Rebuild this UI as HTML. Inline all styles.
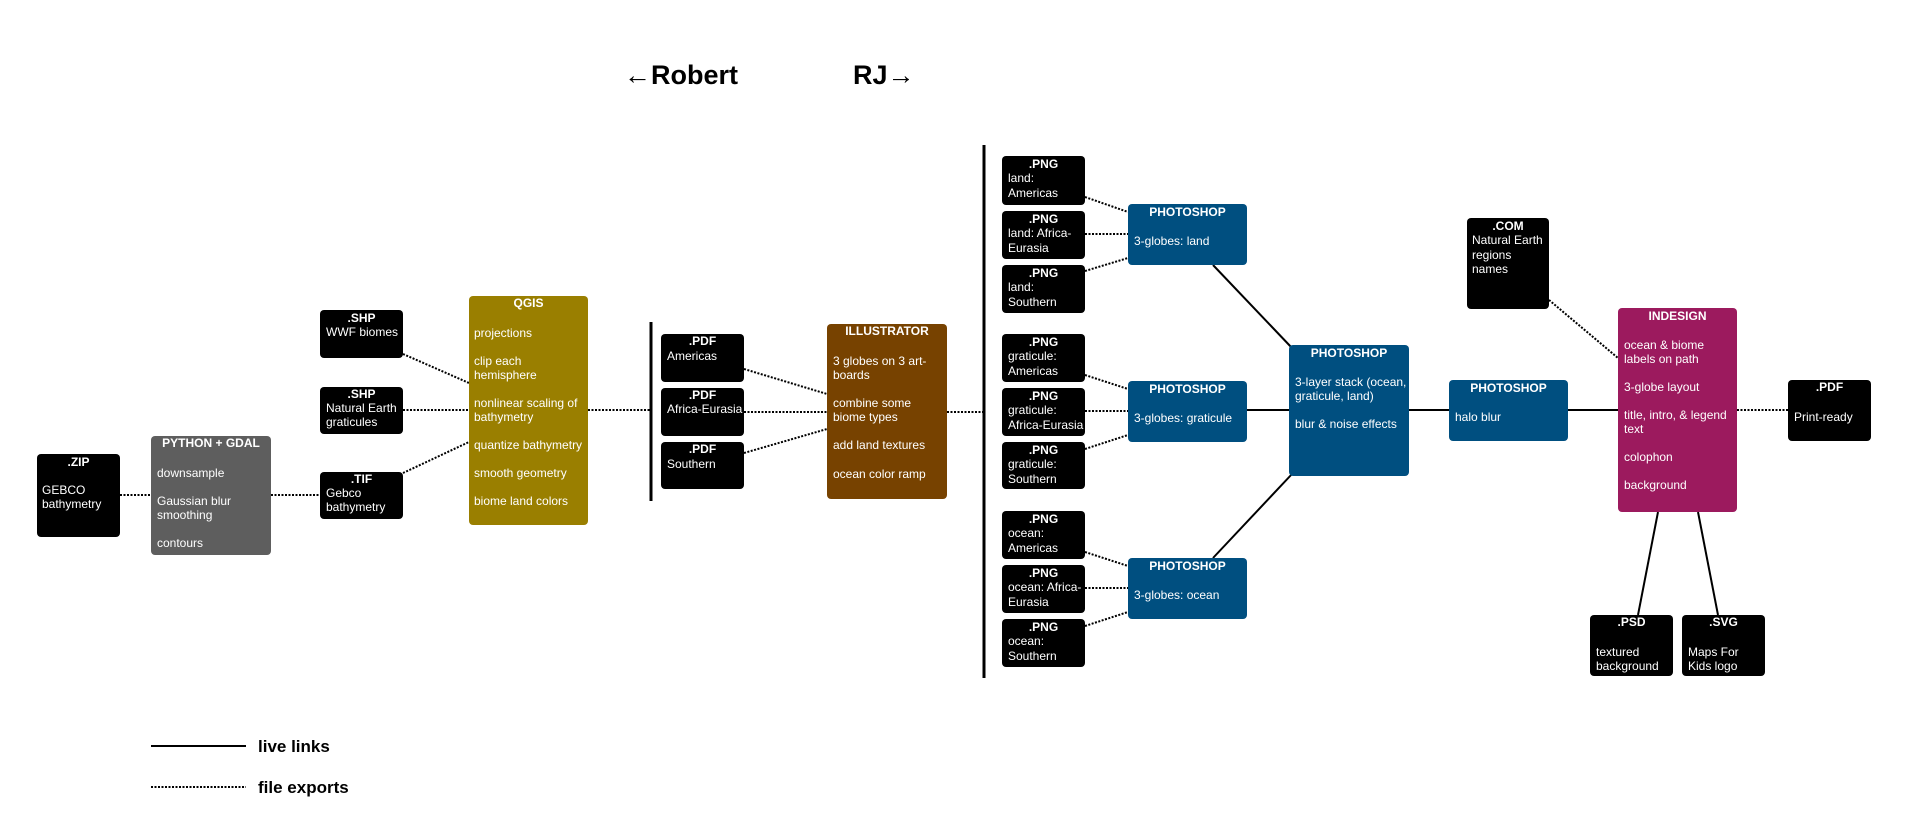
<!DOCTYPE html>
<html><head><meta charset="utf-8"><style>
html,body{margin:0;padding:0;background:#fff;}
svg{display:block;font-family:"Liberation Sans",Arial,sans-serif;}
.t{fill:#fff;font-size:12px;}
.h{fill:#fff;font-size:12px;font-weight:bold;text-anchor:middle;}
.d{stroke:#000;stroke-width:2;stroke-dasharray:2 1.5;fill:none;}
.s{stroke:#000;stroke-width:2;fill:none;}
</style></head><body>
<svg width="1920" height="837" viewBox="0 0 1920 837" xmlns="http://www.w3.org/2000/svg">
<!-- header -->
<text x="624" y="84" font-size="27" font-weight="bold">←Robert</text>
<text x="853" y="84" font-size="27" font-weight="bold">RJ→</text>

<!-- connectors -->
<line class="d" x1="120" y1="495" x2="151" y2="495"/>
<line class="d" x1="271" y1="495" x2="320" y2="495"/>
<line class="d" x1="403" y1="354" x2="469" y2="383"/>
<line class="d" x1="403" y1="410" x2="469" y2="410"/>
<line class="d" x1="403" y1="473" x2="469" y2="442"/>
<line class="d" x1="588" y1="410" x2="651" y2="410"/>
<line x1="651" y1="322" x2="651" y2="501" stroke="#000" stroke-width="3"/>
<line class="d" x1="744" y1="369" x2="827" y2="394"/>
<line class="d" x1="744" y1="412" x2="827" y2="412"/>
<line class="d" x1="744" y1="453" x2="827" y2="429"/>
<line class="d" x1="947" y1="412" x2="984" y2="412"/>
<line x1="984" y1="145" x2="984" y2="678" stroke="#000" stroke-width="3"/>

<line class="d" x1="1085" y1="197" x2="1128" y2="212"/>
<line class="d" x1="1085" y1="234" x2="1128" y2="234"/>
<line class="d" x1="1085" y1="271" x2="1128" y2="258"/>
<line class="d" x1="1085" y1="375" x2="1128" y2="389"/>
<line class="d" x1="1085" y1="411" x2="1128" y2="411"/>
<line class="d" x1="1085" y1="449" x2="1128" y2="435"/>
<line class="d" x1="1085" y1="552" x2="1128" y2="566"/>
<line class="d" x1="1085" y1="588" x2="1128" y2="588"/>
<line class="d" x1="1085" y1="626" x2="1128" y2="612"/>

<line class="s" x1="1213" y1="265" x2="1292" y2="348"/>
<line class="s" x1="1213" y1="558" x2="1292" y2="474"/>
<line class="s" x1="1247" y1="410" x2="1289" y2="410"/>
<line class="s" x1="1409" y1="410" x2="1449" y2="410"/>
<line class="s" x1="1568" y1="410" x2="1618" y2="410"/>
<line class="d" x1="1549" y1="300" x2="1618" y2="358"/>
<line class="d" x1="1737" y1="410" x2="1788" y2="410"/>
<line class="s" x1="1658" y1="512" x2="1638" y2="615"/>
<line class="s" x1="1698" y1="512" x2="1718" y2="615"/>

<!-- ZIP -->
<rect x="37" y="454" width="83" height="83" rx="4" fill="#000"/>
<text class="h" x="78.5" y="466">.ZIP</text>
<text class="t" x="42" y="494">GEBCO</text><text class="t" x="42" y="508">bathymetry</text>

<!-- PYTHON -->
<rect x="151" y="436" width="120" height="119" rx="4" fill="#5e5e5e"/>
<text class="h" x="211" y="447">PYTHON + GDAL</text>
<text class="t" x="157" y="477">downsample</text>
<text class="t" x="157" y="505">Gaussian blur</text>
<text class="t" x="157" y="519">smoothing</text>
<text class="t" x="157" y="547">contours</text>

<!-- SHP/TIF -->
<rect x="320" y="310" width="83" height="48" rx="4" fill="#000"/>
<text class="h" x="361.5" y="322">.SHP</text><text class="t" x="326" y="336">WWF biomes</text>
<rect x="320" y="387" width="83" height="47" rx="4" fill="#000"/>
<text class="h" x="361.5" y="398">.SHP</text><text class="t" x="326" y="412">Natural Earth</text><text class="t" x="326" y="426">graticules</text>
<rect x="320" y="472" width="83" height="47" rx="4" fill="#000"/>
<text class="h" x="361.5" y="483">.TIF</text><text class="t" x="326" y="497">Gebco</text><text class="t" x="326" y="511">bathymetry</text>

<!-- QGIS -->
<rect x="469" y="296" width="119" height="229" rx="4" fill="#9a7f00"/>
<text class="h" x="528.5" y="307">QGIS</text>
<text class="t" x="474" y="337">projections</text>
<text class="t" x="474" y="365">clip each</text><text class="t" x="474" y="379">hemisphere</text>
<text class="t" x="474" y="407">nonlinear scaling of</text><text class="t" x="474" y="421">bathymetry</text>
<text class="t" x="474" y="449">quantize bathymetry</text>
<text class="t" x="474" y="477">smooth geometry</text>
<text class="t" x="474" y="505">biome land colors</text>

<!-- PDFs -->
<rect x="661" y="334" width="83" height="48" rx="4" fill="#000"/>
<text class="h" x="702.5" y="345">.PDF</text><text class="t" x="667" y="360">Americas</text>
<rect x="661" y="388" width="83" height="48" rx="4" fill="#000"/>
<text class="h" x="702.5" y="399">.PDF</text><text class="t" x="667" y="413">Africa-Eurasia</text>
<rect x="661" y="442" width="83" height="47" rx="4" fill="#000"/>
<text class="h" x="702.5" y="453">.PDF</text><text class="t" x="667" y="468">Southern</text>

<!-- ILLUSTRATOR -->
<rect x="827" y="324" width="120" height="175" rx="4" fill="#774200"/>
<text class="h" x="887" y="335">ILLUSTRATOR</text>
<text class="t" x="833" y="365">3 globes on 3 art-</text><text class="t" x="833" y="379">boards</text>
<text class="t" x="833" y="407">combine some</text><text class="t" x="833" y="421">biome types</text>
<text class="t" x="833" y="449">add land textures</text>
<text class="t" x="833" y="478">ocean color ramp</text>

<!-- PNGs -->
<g>
<rect x="1002" y="156" width="83" height="49" rx="4" fill="#000"/><text class="h" x="1043.5" y="168">.PNG</text><text class="t" x="1008" y="182">land:</text><text class="t" x="1008" y="197">Americas</text>
<rect x="1002" y="211" width="83" height="48" rx="4" fill="#000"/><text class="h" x="1043.5" y="223">.PNG</text><text class="t" x="1008" y="237">land: Africa-</text><text class="t" x="1008" y="252">Eurasia</text>
<rect x="1002" y="265" width="83" height="48" rx="4" fill="#000"/><text class="h" x="1043.5" y="277">.PNG</text><text class="t" x="1008" y="291">land:</text><text class="t" x="1008" y="306">Southern</text>
<rect x="1002" y="334" width="83" height="48" rx="4" fill="#000"/><text class="h" x="1043.5" y="346">.PNG</text><text class="t" x="1008" y="360">graticule:</text><text class="t" x="1008" y="375">Americas</text>
<rect x="1002" y="388" width="83" height="48" rx="4" fill="#000"/><text class="h" x="1043.5" y="400">.PNG</text><text class="t" x="1008" y="414">graticule:</text><text class="t" x="1008" y="429">Africa-Eurasia</text>
<rect x="1002" y="442" width="83" height="47" rx="4" fill="#000"/><text class="h" x="1043.5" y="454">.PNG</text><text class="t" x="1008" y="468">graticule:</text><text class="t" x="1008" y="483">Southern</text>
<rect x="1002" y="511" width="83" height="48" rx="4" fill="#000"/><text class="h" x="1043.5" y="523">.PNG</text><text class="t" x="1008" y="537">ocean:</text><text class="t" x="1008" y="552">Americas</text>
<rect x="1002" y="565" width="83" height="48" rx="4" fill="#000"/><text class="h" x="1043.5" y="577">.PNG</text><text class="t" x="1008" y="591">ocean: Africa-</text><text class="t" x="1008" y="606">Eurasia</text>
<rect x="1002" y="619" width="83" height="48" rx="4" fill="#000"/><text class="h" x="1043.5" y="631">.PNG</text><text class="t" x="1008" y="645">ocean:</text><text class="t" x="1008" y="660">Southern</text>
</g>

<!-- PHOTOSHOPs -->
<rect x="1128" y="204" width="119" height="61" rx="4" fill="#004f80"/>
<text class="h" x="1187.5" y="216">PHOTOSHOP</text><text class="t" x="1134" y="245">3-globes: land</text>
<rect x="1128" y="381" width="119" height="61" rx="4" fill="#004f80"/>
<text class="h" x="1187.5" y="393">PHOTOSHOP</text><text class="t" x="1134" y="422">3-globes: graticule</text>
<rect x="1128" y="558" width="119" height="61" rx="4" fill="#004f80"/>
<text class="h" x="1187.5" y="570">PHOTOSHOP</text><text class="t" x="1134" y="599">3-globes: ocean</text>

<rect x="1289" y="345" width="120" height="131" rx="4" fill="#004f80"/>
<text class="h" x="1349" y="357">PHOTOSHOP</text>
<text class="t" x="1295" y="386">3-layer stack (ocean,</text><text class="t" x="1295" y="400">graticule, land)</text>
<text class="t" x="1295" y="428">blur &amp; noise effects</text>

<rect x="1449" y="380" width="119" height="61" rx="4" fill="#004f80"/>
<text class="h" x="1508.5" y="392">PHOTOSHOP</text><text class="t" x="1455" y="421">halo blur</text>

<!-- COM -->
<rect x="1467" y="218" width="82" height="91" rx="4" fill="#000"/>
<text class="h" x="1508" y="230">.COM</text>
<text class="t" x="1472" y="244">Natural Earth</text><text class="t" x="1472" y="259">regions</text><text class="t" x="1472" y="273">names</text>

<!-- INDESIGN -->
<rect x="1618" y="308" width="119" height="204" rx="4" fill="#9c1a5e"/>
<text class="h" x="1677.5" y="320">INDESIGN</text>
<text class="t" x="1624" y="349">ocean &amp; biome</text><text class="t" x="1624" y="363">labels on path</text>
<text class="t" x="1624" y="391">3-globe layout</text>
<text class="t" x="1624" y="419">title, intro, &amp; legend</text><text class="t" x="1624" y="433">text</text>
<text class="t" x="1624" y="461">colophon</text>
<text class="t" x="1624" y="489">background</text>

<!-- PDF print -->
<rect x="1788" y="380" width="83" height="61" rx="4" fill="#000"/>
<text class="h" x="1829.5" y="391">.PDF</text><text class="t" x="1794" y="421">Print-ready</text>

<!-- PSD/SVG -->
<rect x="1590" y="615" width="83" height="61" rx="4" fill="#000"/>
<text class="h" x="1631.5" y="626">.PSD</text><text class="t" x="1596" y="656">textured</text><text class="t" x="1596" y="670">background</text>
<rect x="1682" y="615" width="83" height="61" rx="4" fill="#000"/>
<text class="h" x="1723.5" y="626">.SVG</text><text class="t" x="1688" y="656">Maps For</text><text class="t" x="1688" y="670">Kids logo</text>

<!-- legend -->
<line class="s" x1="151" y1="746" x2="246" y2="746"/>
<text x="258" y="752" font-size="17" font-weight="bold">live links</text>
<line class="d" x1="151" y1="787" x2="246" y2="787"/>
<text x="258" y="793" font-size="17" font-weight="bold">file exports</text>
</svg>
</body></html>
